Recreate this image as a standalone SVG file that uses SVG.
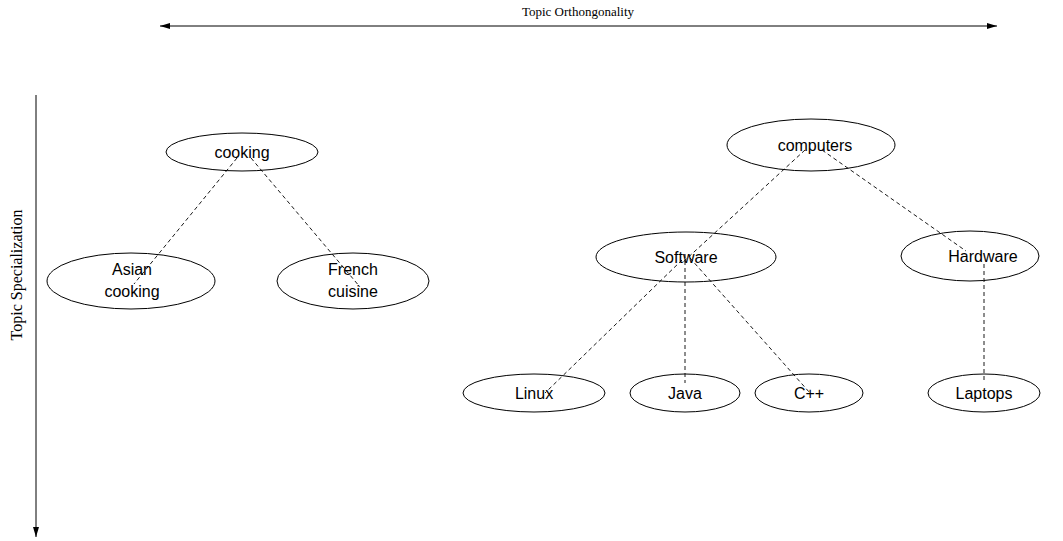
<svg xmlns="http://www.w3.org/2000/svg" width="1063" height="541" viewBox="0 0 1063 541">
<style>
.node ellipse{fill:none;stroke:#000;stroke-width:1}
.node text{font-family:"Liberation Sans",Arial,sans-serif;font-size:16px;fill:#000;text-anchor:middle}
.edge{stroke:#000;stroke-width:0.9;stroke-dasharray:4,3;fill:none}
.axis{stroke:#000;stroke-width:1;fill:none}
.axlabel{font-family:"Liberation Serif","Times New Roman",serif;fill:#000;text-anchor:middle}
</style>
<defs>
<marker id="ah" viewBox="0 0 10 6" refX="10" refY="3" markerWidth="10" markerHeight="6" markerUnits="userSpaceOnUse" orient="auto-start-reverse">
<path d="M0,0 L10,3 L0,6 Z" fill="#000"/>
</marker>
</defs>
<g id="axes">
<line class="axis" x1="160" y1="26" x2="997" y2="26" marker-start="url(#ah)" marker-end="url(#ah)"/>
<text class="axlabel" x="578" y="16" font-size="13">Topic Orthongonality</text>
<line class="axis" x1="36" y1="95" x2="36" y2="537" marker-end="url(#ah)"/>
<text class="axlabel" font-size="16" transform="translate(22,275) rotate(-90)">Topic Specialization</text>
</g>
<g id="connectors">
<line class="edge" x1="237" y1="158" x2="134" y2="284"/>
<line class="edge" x1="251" y1="158" x2="360" y2="287"/>
<line class="edge" x1="805" y1="150" x2="682" y2="263"/>
<line class="edge" x1="822" y1="150" x2="966" y2="251"/>
<line class="edge" x1="682" y1="260" x2="545" y2="393"/>
<line class="edge" x1="685" y1="254" x2="685" y2="383"/>
<line class="edge" x1="690" y1="258" x2="810" y2="393"/>
<line class="edge" x1="984" y1="264" x2="984" y2="383"/>
</g>
<g id="cooking" class="node"><ellipse cx="242" cy="152" rx="76" ry="19"/><text x="242" y="158">cooking</text></g>
<g id="asian" class="node"><ellipse cx="131" cy="281" rx="84" ry="28"/><text x="132" y="275">Asian</text><text x="132" y="297">cooking</text></g>
<g id="french" class="node"><ellipse cx="353" cy="281" rx="76" ry="28"/><text x="353" y="275">French</text><text x="353" y="297">cuisine</text></g>
<g id="computers" class="node"><ellipse cx="811" cy="145" rx="84" ry="26"/><text x="815" y="151">computers</text></g>
<g id="software" class="node"><ellipse cx="686" cy="257" rx="90" ry="25"/><text x="686" y="263">Software</text></g>
<g id="hardware" class="node"><ellipse cx="970" cy="256" rx="69" ry="25"/><text x="983" y="262">Hardware</text></g>
<g id="linux" class="node"><ellipse cx="534" cy="393" rx="71" ry="19"/><text x="534" y="399">Linux</text></g>
<g id="java" class="node"><ellipse cx="685" cy="393" rx="55" ry="19"/><text x="685" y="399">Java</text></g>
<g id="cpp" class="node"><ellipse cx="809" cy="393" rx="54" ry="19"/><text x="809" y="399">C++</text></g>
<g id="laptops" class="node"><ellipse cx="984" cy="393" rx="56" ry="19"/><text x="984" y="399">Laptops</text></g>
</svg>
